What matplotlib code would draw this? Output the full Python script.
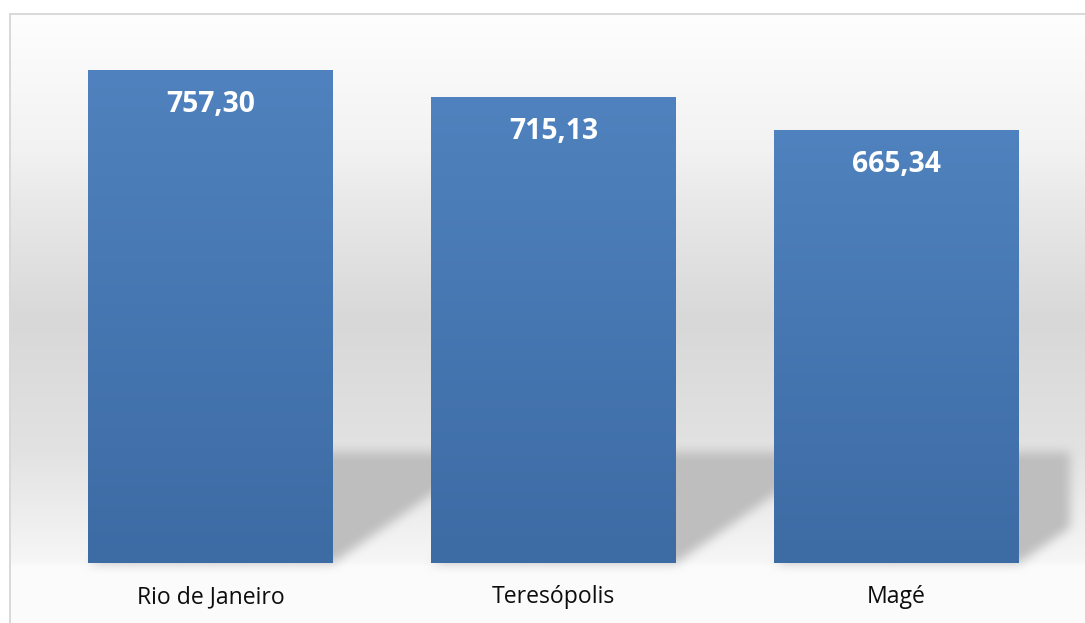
import numpy as np
import matplotlib
matplotlib.use("Agg")
import matplotlib.pyplot as plt
from matplotlib.path import Path
from matplotlib.patches import Rectangle

plt.rcParams["font.family"] = ["Open Sans", "DejaVu Sans"]

cities = ["Rio de Janeiro", "Teresópolis", "Magé"]
values = [757.30, 715.13, 665.34]
value_labels = ["757,30", "715,13", "665,34"]

W, H = 1085, 623
fig = plt.figure(figsize=(W / 100, H / 100), dpi=100)
ax = fig.add_axes([39 / W, 1 - 563 / H, (1068 - 39) / W, (563 - 42) / H])
ax.set_xlim(-0.5, 2.5)
ax.set_ylim(0, 800)
ax.axis("off")
ax.patch.set_alpha(0)

x = np.arange(len(cities))
bars = ax.bar(x, values, width=0.714, color="none", zorder=3)

# background: wall gradient + perspective shadows, built in pixel space
fig.canvas.draw()
yy = np.arange(H)
prof_y = [0, 13, 150, 200, 320, 450, 560, 566, 623]
prof_v = [255, 254, 242, 233, 216, 226, 246, 251, 252]
col = np.interp(yy, prof_y, prof_v)
bg = np.repeat(col[:, None], W, axis=1).astype(float)

shadow = np.zeros((H, W))
px, py = np.meshgrid(np.arange(W) + 0.5, np.arange(H) + 0.5)
pts = np.column_stack([px.ravel(), py.ravel()])
for b in bars:
    (x0, y0), (x1, y1) = ax.transData.transform([(b.get_x(), 0), (b.get_x() + b.get_width(), b.get_height())])
    yb = H - y0  # pixel coords, origin top
    ytop = 452
    dx = 160
    poly = Path([(x0, yb), (x1, yb), (x1 + dx, ytop), (x0 + dx, ytop), (x0, yb)])
    shadow = np.maximum(shadow, poly.contains_points(pts).reshape(H, W).astype(float))
shadow[:, 1070:] = 0


def box_blur(a, r):
    k = np.ones(2 * r + 1) / (2 * r + 1)
    a = np.apply_along_axis(lambda m: np.convolve(m, k, mode="same"), 0, a)
    a = np.apply_along_axis(lambda m: np.convolve(m, k, mode="same"), 1, a)
    return a


shadow = box_blur(box_blur(shadow, 6), 5)
img = bg * (1 - shadow) + 190 * shadow
img[:13, :] = 255
img[:, :9] = 255
img[13:15, 9:] = 217
img[13:, 9:11] = 217
rgb = np.repeat(img[:, :, None], 3, axis=2) / 255.0
fig.figimage(rgb, 0, 0, origin="upper", zorder=-5)

# gradient fill for bars
grad = np.linspace(0, 1, 256)[:, None]
top_c = np.array([79, 130, 190]) / 255
bot_c = np.array([61, 107, 164]) / 255
gimg = top_c * (1 - grad[:, :, None]) + bot_c * grad[:, :, None]
for b, lab in zip(bars, value_labels):
    bx, bw, bh = b.get_x(), b.get_width(), b.get_height()
    im = ax.imshow(gimg, extent=[bx, bx + bw, 0, bh], aspect="auto", zorder=3, origin="upper")
    im.set_clip_path(Rectangle((bx, 0), bw, bh, transform=ax.transData))
    ax.annotate(lab, (bx + bw / 2, bh), xytext=(0, -25), textcoords="offset points",
                ha="center", va="center", color="white", fontsize=20.3, fontweight="bold", zorder=5)

for xi, name in zip(x, cities):
    ax.annotate(name, (xi, 0), xytext=(0, -24.5), textcoords="offset points",
                ha="center", va="center", color="#0d0d0d", fontsize=16.6, annotation_clip=False)

ax.set_xlim(-0.5, 2.5)
ax.set_ylim(0, 800)
fig.savefig("out.png", dpi=100)
